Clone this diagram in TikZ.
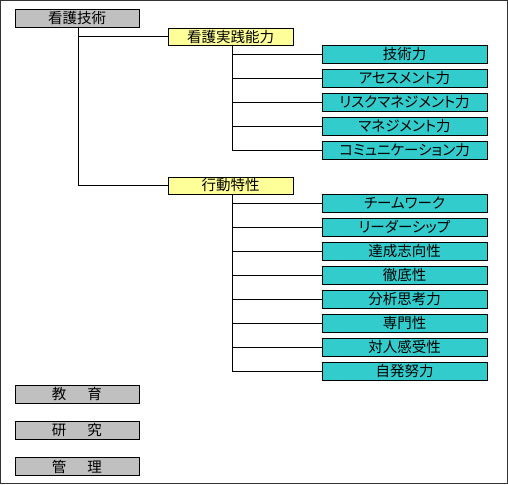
\documentclass[tikz,border=0pt]{standalone}
\usepackage{fontspec}
\newfontfamily\jp[RawFeature=+palt]{Noto Sans CJK JP}
\definecolor{boxgray}{HTML}{C0C0C0}
\definecolor{boxyellow}{HTML}{FFFF99}
\definecolor{boxcyan}{HTML}{33CCCC}
\begin{document}
\begin{tikzpicture}[x=1pt,y=1pt,
  base/.style={draw=black,line width=0.8pt,inner sep=0pt,font=\jp\fontsize{14.5}{14.5}\selectfont,anchor=center},
  graybox/.style={base,fill=boxgray,minimum width=124pt,minimum height=18pt},
  yellowbox/.style={base,fill=boxyellow,minimum width=125pt,minimum height=17pt},
  cyanbox/.style={base,fill=boxcyan,minimum width=165pt,minimum height=18pt},
  link/.style={draw=black,line width=0.8pt}]
\useasboundingbox (0,0) rectangle (508,-484);
\fill[white] (0,0) rectangle (508,-484);
\draw[line width=1pt,black!80] (0.5,-0.5) rectangle (507.5,-483.5);

\node[graybox] (root) at (77,-18) {看護技術};
\node[yellowbox] (ya) at (230.5,-36.5) {看護実践能力};
\node[yellowbox] (yb) at (230.5,-185.5) {行動特性};

\node[cyanbox] (a1) at (404.5,-54) {技術力};
\node[cyanbox] (a2) at (404.5,-78) {アセスメント力};
\node[cyanbox] (a3) at (404.5,-102) {リスクマネジメント力};
\node[cyanbox] (a4) at (404.5,-126) {マネジメント力};
\node[cyanbox] (a5) at (404.5,-150) {コミュニケーション力};

\node[cyanbox] (b1) at (404.5,-203) {チームワーク};
\node[cyanbox] (b2) at (404.5,-227) {リーダーシップ};
\node[cyanbox] (b3) at (404.5,-251) {達成志向性};
\node[cyanbox] (b4) at (404.5,-275) {徹底性};
\node[cyanbox] (b5) at (404.5,-299) {分析思考力};
\node[cyanbox] (b6) at (404.5,-323) {専門性};
\node[cyanbox] (b7) at (404.5,-347) {対人感受性};
\node[cyanbox] (b8) at (404.5,-371) {自発努力};

\node[graybox] (edu) at (77,-394) {教\hspace{1.45em}育};
\node[graybox] (res) at (77,-430.5) {研\hspace{1.45em}究};
\node[graybox] (mgt) at (77,-466.5) {管\hspace{1.45em}理};

\coordinate (rootdrop) at (78,-27);
\path[link] (rootdrop) |- (ya.west);
\path[link] (rootdrop) |- (yb.west);

\coordinate (adrop) at (232,-45);
\foreach \c in {a1,a2,a3,a4,a5} \path[link] (adrop) |- (\c.west);
\coordinate (bdrop) at (232,-194);
\foreach \c in {b1,b2,b3,b4,b5,b6,b7,b8} \path[link] (bdrop) |- (\c.west);
\end{tikzpicture}
\end{document}
